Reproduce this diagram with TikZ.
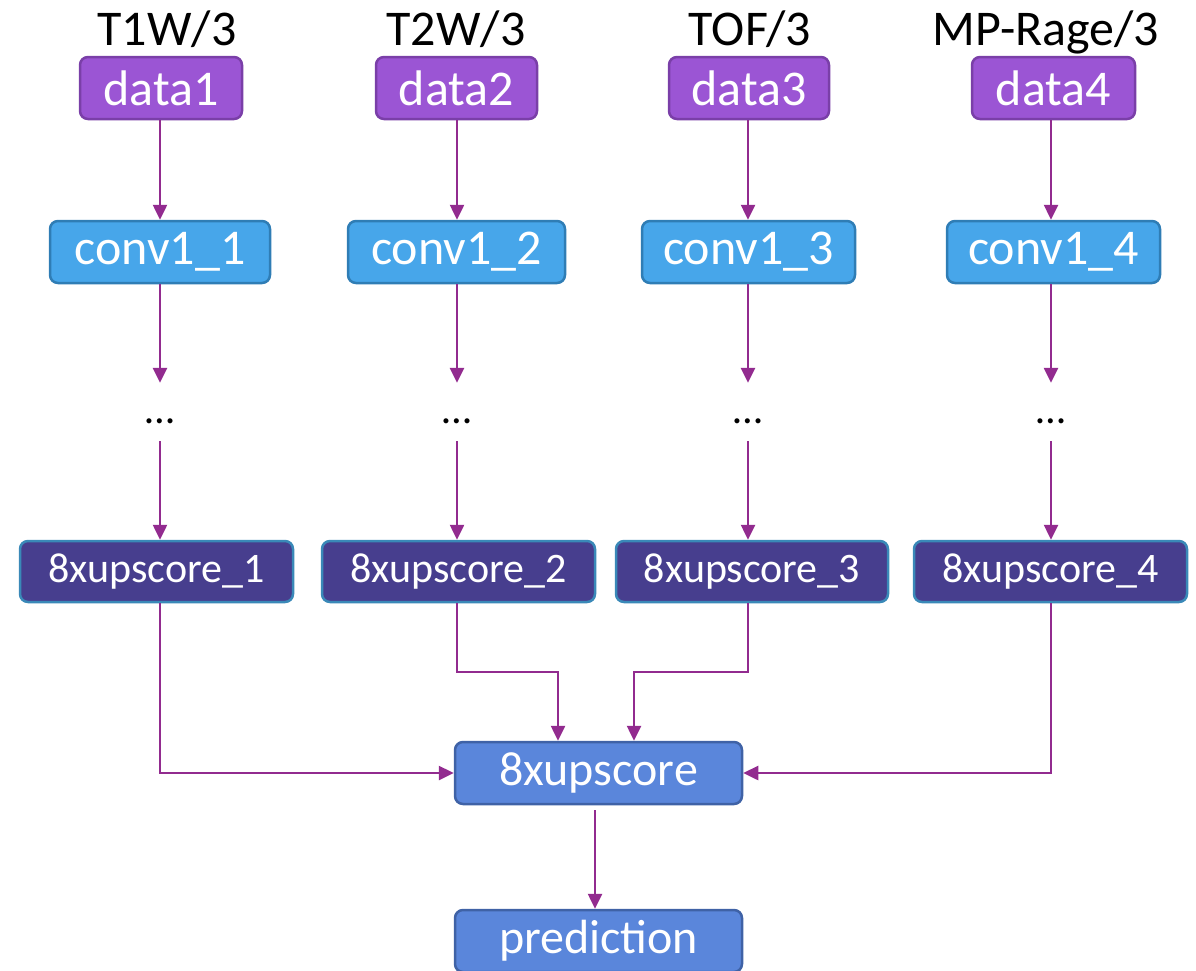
\documentclass[tikz,border=0pt]{standalone}
\usepackage{fontspec}
\setmainfont{Carlito}
\usetikzlibrary{arrows.meta}
\definecolor{datafill}{HTML}{9B55D4}
\definecolor{datadraw}{HTML}{7A3FA8}
\definecolor{convfill}{HTML}{47A6EA}
\definecolor{convdraw}{HTML}{2F7DB5}
\definecolor{upfill}{HTML}{473E8E}
\definecolor{updraw}{HTML}{3A89B8}
\definecolor{mergefill}{HTML}{5A86DB}
\definecolor{mergedraw}{HTML}{3F62A6}
\definecolor{link}{HTML}{922B8F}
\tikzset{
  box/.style={rectangle, rounded corners=8pt, line width=2.5pt, text=white,
    minimum height=62pt, inner sep=0pt, font=\fontsize{50}{60}\selectfont},
  databox/.style={box, fill=datafill, draw=datadraw, minimum width=162pt},
  convbox/.style={box, fill=convfill, draw=convdraw, minimum width=216pt},
  upbox/.style={box, fill=upfill, draw=updraw, minimum width=273pt, minimum height=61pt,
    font=\fontsize{42}{50}\selectfont},
  mergebox/.style={box, fill=mergefill, draw=mergedraw, minimum width=287pt,
    font=\fontsize{48}{58}\selectfont},
  toplabel/.style={anchor=base, inner sep=0pt, font=\fontsize{50}{60}\selectfont},
  ellipsis/.style={inner sep=0pt, text height=40pt, text depth=18pt,
    font=\fontsize{42}{50}\selectfont},
  flow/.style={draw=link, line width=2.5pt, -{Triangle[length=15pt,width=14pt]}},
}
\begin{document}
\begin{tikzpicture}[x=1pt,y=-1pt]
\useasboundingbox (0,0) rectangle (1196,970);

% modality labels
\node[toplabel] (l1) at (167,45) {T1W/3};
\node[toplabel] (l2) at (456,45) {T2W/3};
\node[toplabel] (l3) at (750,45) {TOF/3};
\node[toplabel] (l4) at (1046,45) {MP-Rage/3};

% input data
\node[databox] (d1) at (161,88) {data1};
\node[databox, minimum width=161pt] (d2) at (456.5,88) {data2};
\node[databox, minimum width=160pt] (d3) at (749,88) {data3};
\node[databox, minimum width=163pt] (d4) at (1053.5,88) {data4};

% first convolution of each branch
\node[convbox, minimum width=220pt] (c1) at (160,252) {conv1\_1};
\node[convbox, minimum width=217pt] (c2) at (456.5,252) {conv1\_2};
\node[convbox, minimum width=213pt] (c3) at (748.5,252) {conv1\_3};
\node[convbox, minimum width=213pt] (c4) at (1053.5,252) {conv1\_4};

% elided layers
\node[ellipsis] (e1) at (160,412) {\dots};
\node[ellipsis] (e2) at (457,412) {\dots};
\node[ellipsis] (e3) at (748,412) {\dots};
\node[ellipsis] (e4) at (1051,412) {\dots};

% per-branch upsampled scores
\node[upbox] (u1) at (156.5,571.5) {8xupscore\_1};
\node[upbox] (u2) at (458.5,571.5) {8xupscore\_2};
\node[upbox, minimum width=272pt] (u3) at (752,571.5) {8xupscore\_3};
\node[upbox] (u4) at (1050.5,571.5) {8xupscore\_4};

% fusion and output
\node[mergebox] (m) at (598.5,773) {8xupscore};
\node[mergebox] (p) at (598.5,941) {prediction};

% branch connectors
\foreach \i in {1,...,4}{
  \draw[flow] (e\i.north |- d\i.south) -- (e\i.north |- c\i.north);
  \draw[flow] (e\i.north |- c\i.south) -- (e\i.north);
  \draw[flow] (e\i.south) -- (e\i.south |- u\i.north);
}

% merge points
\coordinate (j2) at (558,672);
\coordinate (j3) at (634,672);
\coordinate (mo) at (595,810);

\draw[flow] (e1.south |- u1.south) -- (e1.south |- m.west) -- (m.west);
\draw[flow] (e2.south |- u2.south) -- (e2.south |- j2) -- (j2) -- (j2 |- m.north);
\draw[flow] (e3.south |- u3.south) -- (e3.south |- j3) -- (j3) -- (j3 |- m.north);
\draw[flow] (e4.south |- u4.south) -- (e4.south |- m.east) -- (m.east);
\draw[flow] (mo) -- (mo |- p.north);
\end{tikzpicture}
\end{document}
